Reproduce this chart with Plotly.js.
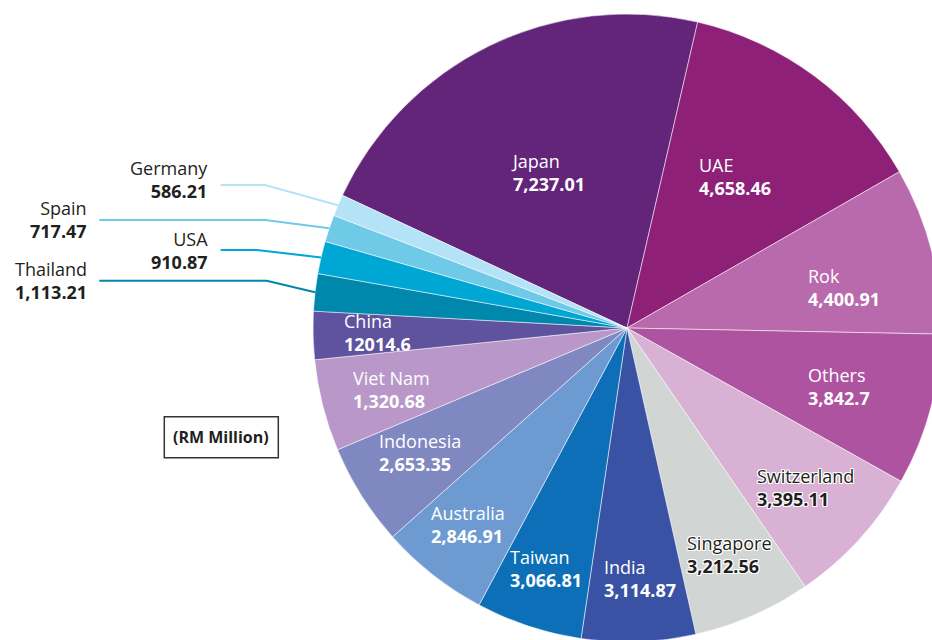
<!DOCTYPE html>
<html>
<head>
<meta charset="utf-8">
<script src="https://cdn.plot.ly/plotly-3.0.1.min.js"></script>
<style>
html,body{margin:0;padding:0;overflow:hidden;background:#ffffff;width:932px;height:640px;}
#chart{width:960px;height:660px;}
</style>
</head>
<body>
<div id="chart"></div>
<script>
// ---------------- DATA ----------------
// Slices in clockwise order, starting with Japan.
const countries = ["Japan","UAE","Rok","Others","Switzerland","Singapore","India","Taiwan",
  "Australia","Indonesia","Viet Nam","China","Thailand","USA","Spain","Germany"];
// Values as printed on the chart (RM Million)
const printedValues = ["7,237.01","4,658.46","4,400.91","3,842.7","3,395.11","3,212.56","3,114.87","3,066.81",
  "2,846.91","2,653.35","1,320.68","12014.6","1,113.21","910.87","717.47","586.21"];
// Share of the pie (%) of each slice as drawn in the picture (the drawn slices are not proportional to the printed values)
const sliceShare = [21.67,13.10,8.60,7.81,7.28,6.08,5.86,5.47,5.61,5.25,4.72,2.47,1.92,1.67,1.39,1.11];
const sliceColors = ["#62257a","#8e2177","#b86aac","#ae53a0","#d8b1d4","#d1d5d3","#3952a4","#0c6fb8",
  "#6d9bd1","#8088c2","#b998c9","#5f529e","#0087ac","#00a7d4","#6ecae6","#b4e3f7"];
const unitLabel = "(RM Million)";

// ---------------- LAYOUT ----------------
const W = 960, H = 660;          // plot canvas (page crops it to 932x640)
const CX = 627, CY = 328, R = 314;
const START_DEG = 155;           // math angle where the first slice starts
function px(x){ return x / W; }
function py(y){ return 1 - y / H; }

const FONT = "Open Sans, Noto Sans, sans-serif";
const DARK = "#231f20";
const HALO = "white 1px 0px 0px, white -1px 0px 0px, white 0px 1px 0px, white 0px -1px 0px, white 1px 1px 0px, white -1px -1px 0px, white 1px -1px 0px, white -1px 1px 0px";

// label placement per country: [x, anchor, nameBaseline, valueBaseline, style]
const labelPlace = {
  "Japan":       [510,   "left", 170.7, 188.5, "in"],
  "UAE":         [698,   "left", 174.3, 192.5, "in"],
  "Rok":         [806.5, "left", 285,   304,   "in"],
  "Others":      [806.5, "left", 384.3, 402,   "in"],
  "Switzerland": [756,   "left", 485,   504,   "dark"],
  "Singapore":   [686,   "left", 552.7, 571,   "dark"],
  "India":       [603.3, "left", 576.7, 595,   "in"],
  "Taiwan":      [509.3, "left", 566,   584,   "in"],
  "Australia":   [430,   "left", 522.7, 540.7, "in"],
  "Indonesia":   [377.7, "left", 451,   468.5, "in"],
  "Viet Nam":    [351.5, "left", 387.3, 405,   "in"],
  "China":       [343,   "left", 328.3, 350,   "in"],
  "Thailand":    [87.5,  "right",278.3, 296.7, "out"],
  "USA":         [208.5, "right",249,   266.7, "out"],
  "Spain":       [87.5,  "right",217.7, 235,   "out"],
  "Germany":     [208.5, "right",176.7, 195.7, "out"]
};
// leader lines: [startX, y, kneeX]
const leaderPlace = {
  "Thailand": [99.3, 280.7, 266.7],
  "USA":      [220.7, 250, 256.7],
  "Spain":    [99.3, 220, 265],
  "Germany":  [220.7, 185, 265]
};

const total = sliceShare.reduce((a,b)=>a+b,0);
function midAngle(i){
  let before = 0;
  for (let k=0;k<i;k++) before += sliceShare[k];
  const deg = START_DEG - (before + sliceShare[i]/2) / total * 360;
  return deg * Math.PI / 180;
}

const annotations = [];
const shapes = [];
const FS = 18;
countries.forEach((c, i) => {
  const p = labelPlace[c];
  const style = p[4];
  const color = style === "in" ? "#ffffff" : DARK;
  const shadow = style === "dark" ? HALO : "none";
  const mid = (p[2] + p[3]) / 2 - 7;
  annotations.push({
    xref:"paper", yref:"paper", x:px(p[0]), y:py(mid),
    xanchor:p[1], yanchor:"middle", align:p[1], showarrow:false, borderpad:0,
    text:c + "<br><b>" + printedValues[i] + "</b>",
    font:{family:FONT, size:FS, color:color, shadow:shadow}
  });
  if (leaderPlace[c]) {
    const l = leaderPlace[c];
    const a = midAngle(i);
    const ex = CX + R * Math.cos(a), ey = CY - R * Math.sin(a);
    shapes.push({
      type:"path", xref:"paper", yref:"paper",
      path:`M ${px(l[0])} ${py(l[1])} L ${px(l[2])} ${py(l[1])} L ${px(ex)} ${py(ey)}`,
      line:{color:sliceColors[i], width:2}
    });
  }
});

// unit box
shapes.push({type:"rect", xref:"paper", yref:"paper",
  x0:px(164.3), x1:px(278.3), y0:py(457.7), y1:py(416.7),
  line:{color:"#333333", width:1.5}, fillcolor:"rgba(0,0,0,0)"});
annotations.push({xref:"paper", yref:"paper", x:px(221.3), y:py(437.2),
  xanchor:"center", yanchor:"middle", showarrow:false, borderpad:0,
  text:"<b>" + unitLabel + "</b>", font:{family:FONT, size:16, color:DARK}});

const trace = {
  type:"pie",
  labels:countries,
  values:sliceShare,
  sort:false,
  direction:"clockwise",
  rotation:90 - START_DEG,
  marker:{colors:sliceColors, line:{color:"rgba(255,255,255,0.75)", width:0.7}},
  textinfo:"none",
  hoverinfo:"none",
  showlegend:false,
  domain:{x:[px(CX-R), px(CX+R)], y:[py(CY+R), py(CY-R)]}
};

const layout = {
  width:W, height:H,
  margin:{l:0,r:0,t:0,b:0},
  paper_bgcolor:"#ffffff",
  showlegend:false,
  annotations:annotations,
  shapes:shapes
};

Plotly.newPlot("chart", [trace], layout, {displayModeBar:false, staticPlot:true});
</script>
</body>
</html>
